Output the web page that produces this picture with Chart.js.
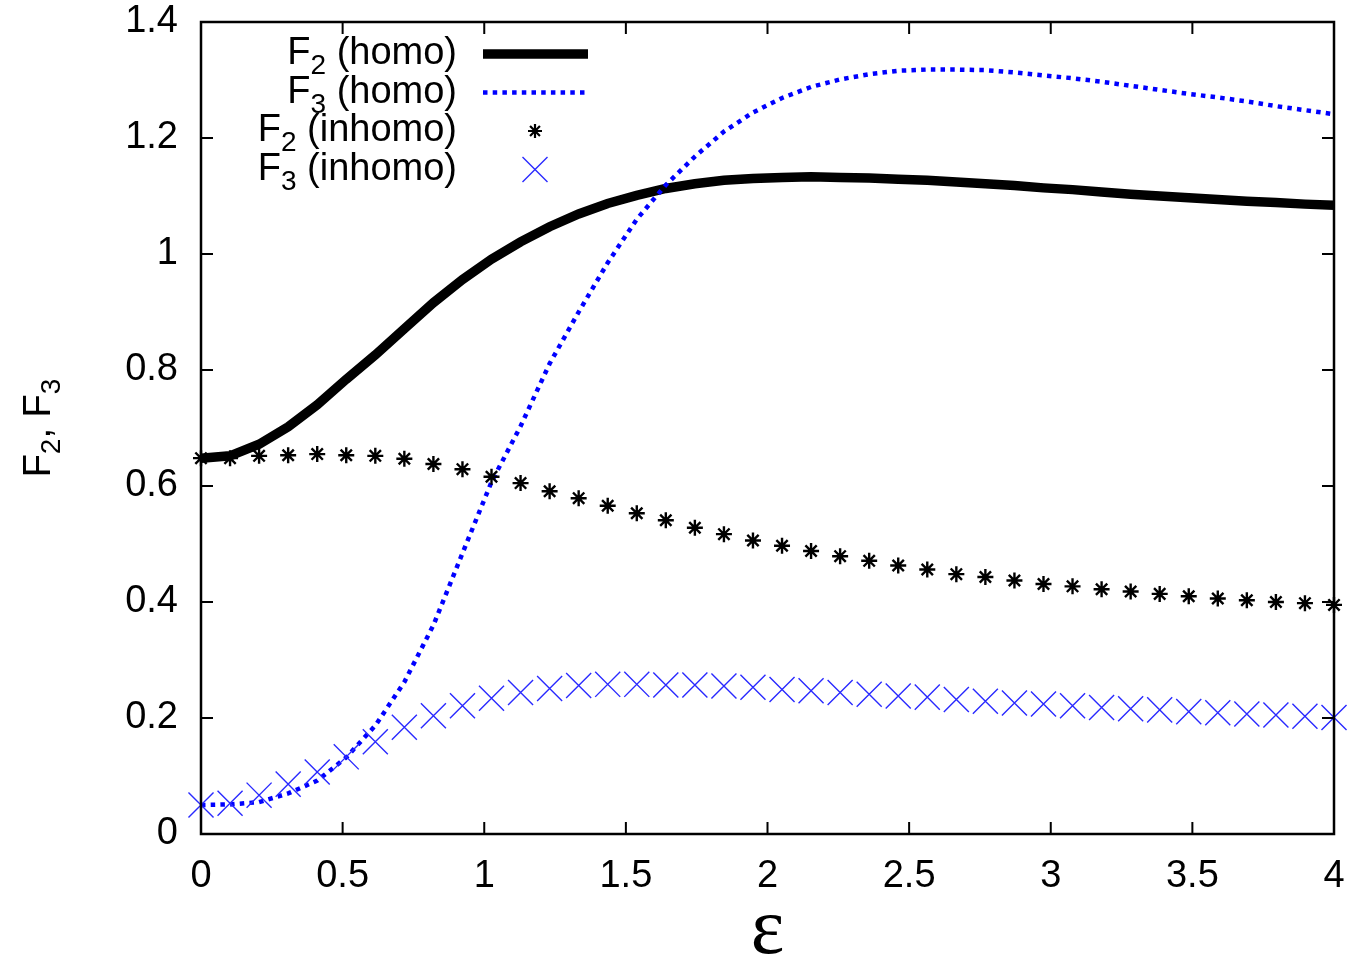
<!DOCTYPE html>
<html>
<head>
<meta charset="utf-8">
<script src="https://cdn.jsdelivr.net/npm/chart.js@4.4.1/dist/chart.umd.min.js"></script>
<style>
  html, body { margin: 0; padding: 0; background: #fff; }
  #wrap { width: 1367px; height: 959px; }
</style>
</head>
<body>
<div id="wrap"><canvas id="chart" width="1367" height="959"></canvas></div>
<script>
// ---- data ----
const epsVals = [
  0, 0.1026, 0.2051, 0.3077, 0.4103, 0.5128, 0.6154, 0.7179, 0.8205, 0.9231,
  1.0256, 1.1282, 1.2308, 1.3333, 1.4359, 1.5385, 1.6410, 1.7436, 1.8462, 1.9487,
  2.0513, 2.1538, 2.2564, 2.3590, 2.4615, 2.5641, 2.6667, 2.7692, 2.8718, 2.9744,
  3.0769, 3.1795, 3.2821, 3.3846, 3.4872, 3.5897, 3.6923, 3.7949, 3.8974, 4
];

const f2Homo = [
  0.648, 0.652, 0.672, 0.702, 0.740, 0.784, 0.826, 0.871, 0.916, 0.956,
  0.991, 1.021, 1.047, 1.069, 1.087, 1.101, 1.113, 1.121, 1.127, 1.130,
  1.132, 1.133, 1.132, 1.131, 1.129, 1.127, 1.124, 1.121, 1.118, 1.114,
  1.111, 1.107, 1.103, 1.100, 1.097, 1.094, 1.091, 1.089, 1.086, 1.084
];

const f3Homo = [
  0.050, 0.051, 0.055, 0.070, 0.092, 0.132, 0.187, 0.262, 0.360, 0.484,
  0.607, 0.703, 0.811, 0.900, 0.985, 1.060, 1.119, 1.168, 1.211, 1.244,
  1.269, 1.288, 1.301, 1.310, 1.316, 1.318, 1.318, 1.317, 1.313, 1.308,
  1.303, 1.297, 1.290, 1.283, 1.276, 1.270, 1.263, 1.255, 1.248, 1.241
];

const f2Inhomo = [
  0.648, 0.648, 0.652, 0.653, 0.655, 0.653, 0.652, 0.647, 0.638, 0.629,
  0.616, 0.605, 0.591, 0.579, 0.566, 0.553, 0.541, 0.528, 0.517, 0.506,
  0.497, 0.488, 0.479, 0.471, 0.463, 0.456, 0.448, 0.443, 0.437, 0.431,
  0.427, 0.422, 0.418, 0.414, 0.410, 0.406, 0.403, 0.400, 0.398, 0.395
];

const f3Inhomo = [
  0.050, 0.053, 0.067, 0.086, 0.107, 0.133, 0.159, 0.184, 0.204, 0.221,
  0.234, 0.244, 0.251, 0.256, 0.258, 0.258, 0.257, 0.257, 0.255, 0.253,
  0.249, 0.247, 0.244, 0.241, 0.238, 0.236, 0.232, 0.229, 0.226, 0.224,
  0.221, 0.218, 0.216, 0.214, 0.211, 0.209, 0.207, 0.205, 0.203, 0.201
];

const xTicks = [0, 0.5, 1, 1.5, 2, 2.5, 3, 3.5, 4];
const xTickLabels = ["0", "0.5", "1", "1.5", "2", "2.5", "3", "3.5", "4"];
const yTicks = [0, 0.2, 0.4, 0.6, 0.8, 1, 1.2, 1.4];
const yTickLabels = ["0", "0.2", "0.4", "0.6", "0.8", "1", "1.2", "1.4"];

// legend: [main, sub, rest]
const legendRows = [
  ["F", "2", " (homo)"],
  ["F", "3", " (homo)"],
  ["F", "2", " (inhomo)"],
  ["F", "3", " (inhomo)"]
];

// ---- helpers ----
const SANS = '"Liberation Sans", Arial, Helvetica, sans-serif';
const MAIN_FONT = "38px " + SANS;
const SUB_FONT = "28px " + SANS;
const SUB_DROP = 10;

function pts(ys) {
  return epsVals.map((x, i) => ({ x: x, y: ys[i] }));
}

function measureParts(ctx, parts) {
  let w = 0;
  parts.forEach(p => {
    ctx.font = p[1] ? SUB_FONT : MAIN_FONT;
    w += ctx.measureText(p[0]).width;
  });
  return w;
}

// parts: [[text, isSub], ...] drawn left to right on baseline y
function drawParts(ctx, parts, x, y) {
  let cx = x;
  parts.forEach(p => {
    ctx.font = p[1] ? SUB_FONT : MAIN_FONT;
    ctx.fillText(p[0], cx, y + (p[1] ? SUB_DROP : 0));
    cx += ctx.measureText(p[0]).width;
  });
}

// ---- frame with inward ticks on all four sides ----
const framePlugin = {
  id: "frame",
  afterDatasetsDraw(chart) {
    const { ctx, chartArea: a, scales } = chart;
    const tl = 12;
    ctx.save();
    ctx.strokeStyle = "#000";
    ctx.lineWidth = 2.5;
    ctx.strokeRect(a.left, a.top, a.right - a.left, a.bottom - a.top);
    ctx.lineWidth = 2;
    ctx.beginPath();
    xTicks.forEach(v => {
      const px = scales.x.getPixelForValue(v);
      ctx.moveTo(px, a.bottom); ctx.lineTo(px, a.bottom - tl);
      ctx.moveTo(px, a.top); ctx.lineTo(px, a.top + tl);
    });
    yTicks.forEach(v => {
      const py = scales.y.getPixelForValue(v);
      ctx.moveTo(a.left, py); ctx.lineTo(a.left + tl, py);
      ctx.moveTo(a.right, py); ctx.lineTo(a.right - tl, py);
    });
    ctx.stroke();
    ctx.restore();
  }
};

// ---- legend, axis titles ----
const textPlugin = {
  id: "texts",
  afterDraw(chart) {
    const ctx = chart.ctx;
    ctx.save();
    ctx.fillStyle = "#000";
    ctx.textBaseline = "alphabetic";
    ctx.textAlign = "left";

    // legend
    const textRight = 457;
    const sampleL = 483, sampleR = 588, sampleC = 535;
    legendRows.forEach((row, i) => {
      const base = 64 + 38.5 * i;
      const parts = [[row[0], false], [row[1], true], [row[2], false]];
      const w = measureParts(ctx, parts);
      drawParts(ctx, parts, textRight - w, base);
      const sy = base - 10;
      ctx.beginPath();
      if (i === 0) {
        ctx.strokeStyle = "#000";
        ctx.lineWidth = 9.5;
        ctx.setLineDash([]);
        ctx.moveTo(sampleL, sy); ctx.lineTo(sampleR, sy);
        ctx.stroke();
      } else if (i === 1) {
        ctx.strokeStyle = "#0000ff";
        ctx.lineWidth = 4.5;
        ctx.setLineDash([4.5, 5.2]);
        ctx.moveTo(sampleL, sy); ctx.lineTo(sampleR, sy);
        ctx.stroke();
        ctx.setLineDash([]);
      } else if (i === 2) {
        ctx.strokeStyle = "#000";
        ctx.lineWidth = 2.2;
        const r = 7, d = r * Math.SQRT1_2;
        ctx.moveTo(sampleC - r, sy); ctx.lineTo(sampleC + r, sy);
        ctx.moveTo(sampleC, sy - r); ctx.lineTo(sampleC, sy + r);
        ctx.moveTo(sampleC - d, sy - d); ctx.lineTo(sampleC + d, sy + d);
        ctx.moveTo(sampleC - d, sy + d); ctx.lineTo(sampleC + d, sy - d);
        ctx.stroke();
      } else {
        ctx.strokeStyle = "#2a2aff";
        ctx.lineWidth = 1.4;
        const h = 12.5;
        ctx.moveTo(sampleC - h, sy - h); ctx.lineTo(sampleC + h, sy + h);
        ctx.moveTo(sampleC - h, sy + h); ctx.lineTo(sampleC + h, sy - h);
        ctx.stroke();
      }
    });

    // y title, rotated
    const yParts = [["F", false], ["2", true], [", F", false], ["3", true]];
    const yw = measureParts(ctx, yParts);
    ctx.translate(50, 428);
    ctx.rotate(-Math.PI / 2);
    drawParts(ctx, yParts, -yw / 2, 0);
    ctx.setTransform(1, 0, 0, 1, 0, 0);

    // x title
    ctx.font = '80px "Liberation Serif", "Times New Roman", serif';
    ctx.textAlign = "center";
    ctx.fillText("\u03b5", chart.chartArea.left + (chart.chartArea.right - chart.chartArea.left) / 2, 953);
    ctx.restore();
  }
};

// ---- chart ----
new Chart(document.getElementById("chart"), {
  type: "line",
  data: {
    datasets: [
      {
        label: "F2 (homo)",
        data: pts(f2Homo),
        borderColor: "#000",
        borderWidth: 9.5,
        pointRadius: 0,
        tension: 0,
        fill: false,
        clip: false,
        order: 4
      },
      {
        label: "F3 (homo)",
        data: pts(f3Homo),
        borderColor: "#0000ff",
        borderWidth: 4.5,
        borderDash: [4.5, 5.2],
        borderCapStyle: "butt",
        pointRadius: 0,
        tension: 0,
        fill: false,
        clip: false,
        order: 3
      },
      {
        label: "F2 (inhomo)",
        data: pts(f2Inhomo),
        showLine: false,
        pointStyle: "star",
        pointRadius: 8,
        pointBorderColor: "#000",
        pointBackgroundColor: "#000",
        pointBorderWidth: 2.4,
        clip: false,
        order: 2
      },
      {
        label: "F3 (inhomo)",
        data: pts(f3Inhomo),
        showLine: false,
        pointStyle: "crossRot",
        pointRadius: 17.7,
        pointBorderColor: "#2a2aff",
        pointBackgroundColor: "#2a2aff",
        pointBorderWidth: 1.4,
        clip: false,
        order: 1
      }
    ]
  },
  options: {
    responsive: false,
    animation: false,
    events: [],
    layout: { padding: { top: 22, right: 33, left: 0, bottom: 0 } },
    plugins: {
      legend: { display: false },
      tooltip: { enabled: false }
    },
    scales: {
      x: {
        type: "linear",
        min: 0,
        max: 4,
        afterBuildTicks: s => { s.ticks = xTicks.map(v => ({ value: v })); },
        afterFit: s => { s.height = 125; s.paddingLeft = 0; s.paddingRight = 0; },
        grid: { display: false, drawTicks: false },
        border: { display: false },
        ticks: {
          color: "#000",
          padding: 20,
          maxRotation: 0,
          font: { family: SANS, size: 38 },
          callback: v => xTickLabels[xTicks.indexOf(v)]
        }
      },
      y: {
        type: "linear",
        min: 0,
        max: 1.4,
        afterBuildTicks: s => { s.ticks = yTicks.map(v => ({ value: v })); },
        afterFit: s => { s.width = 201; s.paddingTop = 0; s.paddingBottom = 0; },
        grid: { display: false, drawTicks: false },
        border: { display: false },
        ticks: {
          color: "#000",
          padding: 23,
          font: { family: SANS, size: 38 },
          callback: v => yTickLabels[yTicks.indexOf(v)]
        }
      }
    }
  },
  plugins: [framePlugin, textPlugin]
});
</script>
</body>
</html>
